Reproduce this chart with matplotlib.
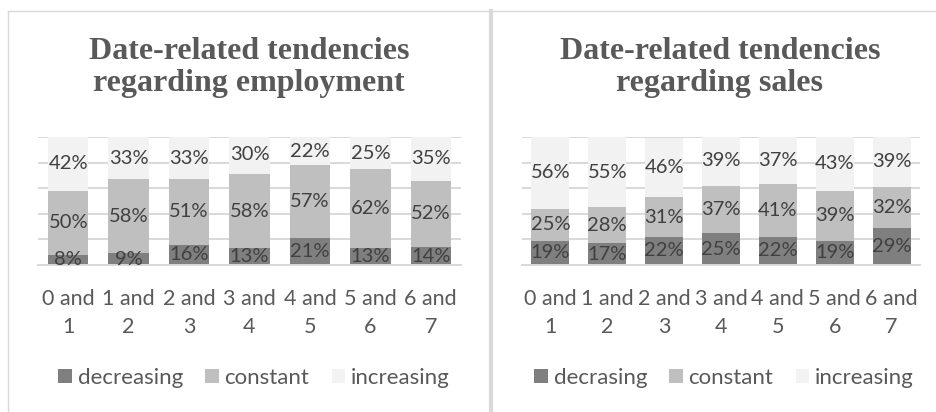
import matplotlib
matplotlib.use("Agg")
import matplotlib.pyplot as plt
from matplotlib.patches import Patch
from matplotlib.lines import Line2D
import numpy as np

categories = ["0 and\n1", "1 and\n2", "2 and\n3", "3 and\n4", "4 and\n5", "5 and\n6", "6 and\n7"]

emp_decreasing = [8, 9, 16, 13, 21, 13, 14]
emp_constant = [50, 58, 51, 58, 57, 62, 52]
emp_increasing = [42, 33, 33, 30, 22, 25, 35]

sales_decreasing = [19, 17, 22, 25, 22, 19, 29]
sales_constant = [25, 28, 31, 37, 41, 39, 32]
sales_increasing = [56, 55, 46, 39, 37, 43, 39]

emp_title = "Date-related tendencies\nregarding employment"
sales_title = "Date-related tendencies\nregarding sales"
emp_legend = ["decreasing", "constant", "increasing"]
sales_legend = ["decrasing", "constant", "increasing"]

COLORS = ["#7f7f7f", "#bfbfbf", "#f2f2f2"]
GRID = "#d9d9d9"
LABEL_C = "#404040"
TEXT_C = "#595959"
BODY_FONT = ["Lato", "DejaVu Sans"]

W, H = 937, 412
fig = plt.figure(figsize=(W / 100, H / 100), dpi=100)
fig.patch.set_facecolor("white")


def fx(px):
    return px / W


def fy(py):
    return 1 - py / H


def panel(rect, series, legend_labels, title, title_x, legend_x):
    ax = fig.add_axes(rect)
    x = np.arange(len(categories))
    bottom = np.zeros(len(categories))
    for vals, col in zip(series, COLORS):
        vals = np.asarray(vals, dtype=float)
        ax.bar(x, vals, bottom=bottom, width=0.67, color=col, zorder=2)
        for xi, b, v in zip(x, bottom, vals):
            ax.text(xi, b + v / 2, f"{int(v)}%", ha="center", va="center",
                    fontsize=14.5, color=LABEL_C, family=BODY_FONT, zorder=3)
        bottom = bottom + vals
    ax.set_xlim(-0.5, len(categories) - 0.5)
    ax.set_ylim(0, 100)
    ax.set_yticks(np.arange(0, 101, 20))
    ax.yaxis.grid(True, color=GRID, linewidth=1.4, zorder=0)
    ax.set_axisbelow(True)
    ax.tick_params(axis="y", left=False, labelleft=False)
    ax.set_xticks(x)
    ax.set_xticklabels(categories, fontsize=15.5, color=TEXT_C, family=BODY_FONT,
                       linespacing=1.45)
    ax.tick_params(axis="x", bottom=False, pad=14)
    for s in ["top", "right", "left"]:
        ax.spines[s].set_visible(False)
    ax.spines["bottom"].set_color(GRID)
    ax.spines["bottom"].set_linewidth(1.4)
    ax.set_facecolor("none")

    handles = [Patch(facecolor=c, edgecolor="none") for c in COLORS]
    fig.legend(handles, legend_labels, loc="center", bbox_to_anchor=(legend_x, fy(378)),
               ncol=3, frameon=False, prop={"family": BODY_FONT, "size": 16},
               labelcolor=TEXT_C, handlelength=0.62, handleheight=0.62,
               handletextpad=0.25, columnspacing=1.0, borderaxespad=0, borderpad=0)

    fig.text(title_x, fy(37), title, ha="center", va="top", fontsize=23,
             fontweight="bold", family="Liberation Serif", color=TEXT_C,
             linespacing=1.13)
    return ax


panel([fx(38), fy(265), fx(461 - 38), (265 - 137) / H],
      [emp_decreasing, emp_constant, emp_increasing], emp_legend,
      emp_title, fx(249), fx(254))
panel([fx(522), fy(265), fx(920 - 522), (265 - 137) / H],
      [sales_decreasing, sales_constant, sales_increasing], sales_legend,
      sales_title, fx(720), fx(724))

# chart frames and separator
fig.add_artist(Line2D([fx(8), 1], [fy(10.5), fy(10.5)], color=GRID, linewidth=1.0))
fig.add_artist(Line2D([fx(8.5), fx(8.5)], [fy(10.5), 0], color=GRID, linewidth=1.0))
fig.add_artist(Line2D([fx(491), fx(491)], [fy(10.5), 0], color=GRID, linewidth=3.0))

fig.savefig("out.png", dpi=100, facecolor="white")
